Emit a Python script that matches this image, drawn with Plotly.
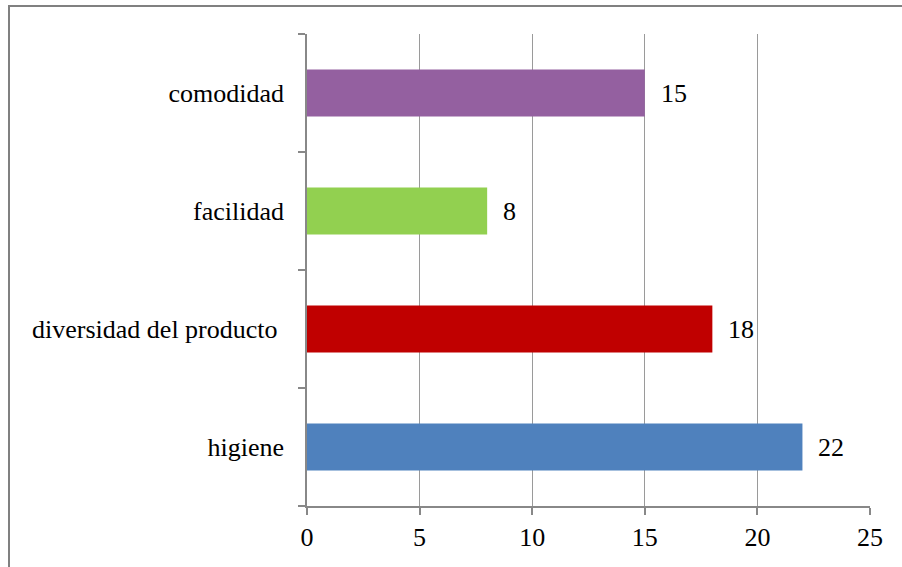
import plotly.graph_objects as go

categories = ["higiene", "diversidad del producto\u00a0", "facilidad", "comodidad"]
values = [22, 18, 8, 15]
colors = ["#4F81BD", "#C00000", "#92D050", "#9460A0"]
x_ticks = [0, 5, 10, 15, 20, 25]

W, H = 902, 567
L, R, T, B = 307, 32, 34, 61
pw, ph = W - L - R, H - T - B

FONT = dict(family="Liberation Serif, Times New Roman, serif", size=26, color="#000000")

fig = go.Figure()
fig.add_trace(go.Bar(
    y=categories, x=values, orientation="h",
    marker=dict(color=colors, line=dict(width=0)),
    hoverinfo="skip",
))

for c, v in zip(categories, values):
    fig.add_annotation(x=v, y=c, text=str(v), showarrow=False,
                       xanchor="left", yanchor="middle", xshift=14,
                       font=FONT)

# outer border (left and top visible)
bx = (9 - L) / pw
by = (H - B - 6) / ph
fig.add_shape(type="path", xref="paper", yref="paper",
              path=f"M {bx},{-(B+5)/ph} L {bx},{by} L {(W+5-L)/pw},{by}",
              line=dict(color="#808080", width=2))

fig.update_layout(
    width=W, height=H,
    margin=dict(l=L, r=R, t=T, b=B),
    paper_bgcolor="white", plot_bgcolor="white",
    bargap=0.6,
    showlegend=False,
    font=FONT,
    xaxis=dict(
        range=[0, 25], tickvals=x_ticks, ticktext=[str(t) for t in x_ticks],
        showgrid=True, gridcolor="#9a9a9a", gridwidth=1,
        showline=True, linecolor="#888888", linewidth=1.5,
        ticks="outside", ticklen=7, tickcolor="#888888", tickwidth=1.5,
        zeroline=False, tickfont=FONT, fixedrange=True,
    ),
    yaxis=dict(
        type="category", categoryorder="array", categoryarray=categories,
        range=[-0.5, 3.5],
        showgrid=False, showline=True, linecolor="#888888", linewidth=1.5,
        ticks="outside", ticklen=7, tickcolor="#888888", tickwidth=1.5,
        tickson="boundaries", tickfont=FONT, ticklabelstandoff=16,
        zeroline=False, fixedrange=True,
    ),
)

fig.write_html("out.html")
